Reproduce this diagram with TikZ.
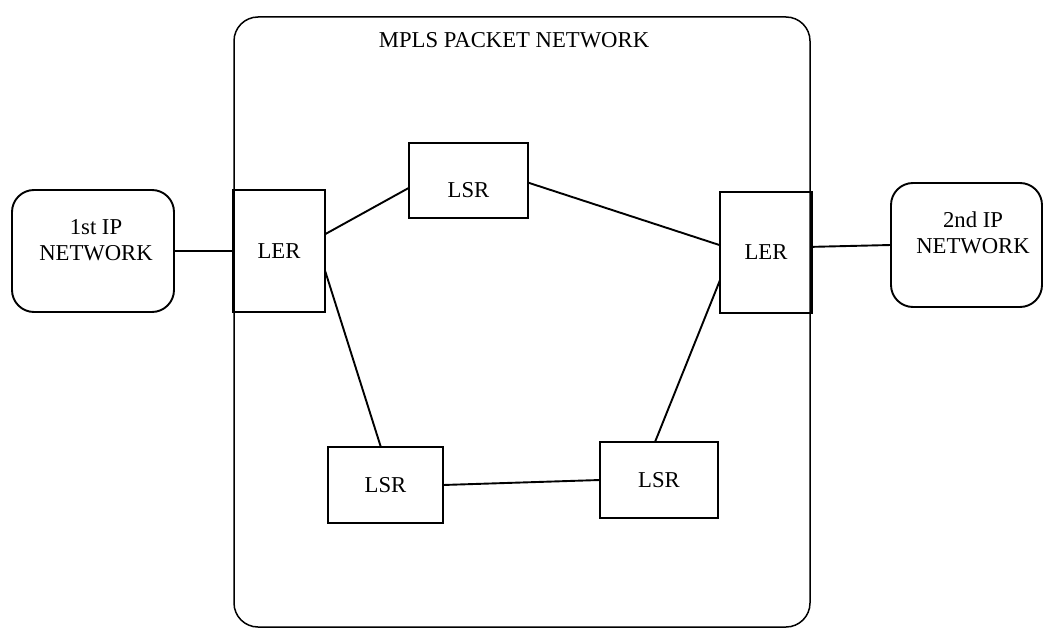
\documentclass[tikz,border=0pt]{standalone}
\usepackage{fontspec}
\setmainfont{Liberation Serif}
\begin{document}
\begin{tikzpicture}[x=1pt,y=-1pt,
  lbl/.style={font=\fontsize{22.7}{26}\selectfont},
  router/.style={draw, line width=1.9pt, inner sep=0pt, outer sep=0pt, lbl},
  netcloud/.style={draw, line width=1.9pt, rounded corners=22pt, inner sep=0pt, outer sep=0pt},
  mplsbox/.style={draw, line width=1.5pt, rounded corners=24pt, inner sep=0pt, outer sep=0pt},
  link/.style={line width=1.9pt}]
\useasboundingbox (0,0) rectangle (1044,631);

% MPLS domain
\node[mplsbox, minimum width=576, minimum height=610] (mpls) at (522,322) {};
\node[lbl, anchor=base] (title) at (514,48) {MPLS PACKET NETWORK};

% outside IP networks
\node[netcloud, minimum width=162, minimum height=122] (net1) at (93,251) {};
\node[lbl, align=center] (net1txt) at (96,240) {1st IP\\NETWORK};
\node[netcloud, minimum width=151, minimum height=124] (net2) at (966.5,245) {};
\node[lbl, align=center] (net2txt) at (973,233) {2nd IP\\NETWORK};

% edge and core routers
\node[router, minimum width=92, minimum height=122] (ler1) at (279,251) {LER};
\node[router, minimum width=92, minimum height=121] (ler2) at (766,252.5) {LER};
\node[router, minimum width=119, minimum height=75] (lsrT) at (468.5,180.5) {\rule{0pt}{34pt}LSR};
\node[router, minimum width=115, minimum height=76] (lsrBL) at (385.5,485) {LSR};
\node[router, minimum width=118, minimum height=76] (lsrBR) at (659,480) {LSR};

% links
\draw[link] (net1.east) -- (ler1.west);
\draw[link] (ler1.20) -- (lsrT.187);
\draw[link] (lsrT.358) -- (ler2.171);
\draw[link] (ler1.337) -- (lsrBL.97);
\draw[link] (ler2.211) -- (lsrBR.96);
\draw[link] (lsrBL.east) -- (lsrBR.west);
\draw[link] (ler2.7) -- (net2.west);
\end{tikzpicture}
\end{document}
